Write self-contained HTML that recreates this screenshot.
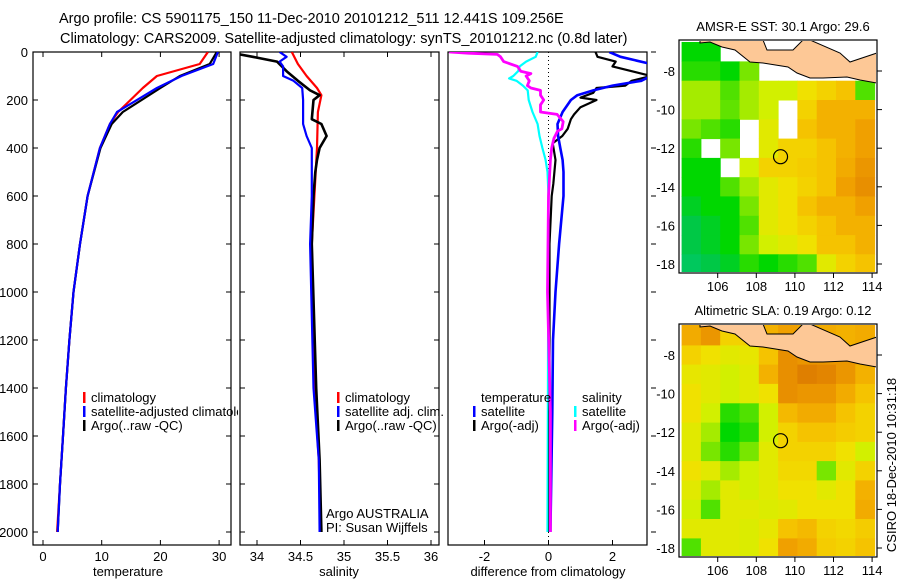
<!DOCTYPE html>
<html><head><meta charset="utf-8"><style>
html,body{margin:0;padding:0;background:#fff}
svg{display:block;font-family:"Liberation Sans",sans-serif}
</style></head><body>
<svg id="chart" width="900" height="580" viewBox="0 0 900 580" xmlns="http://www.w3.org/2000/svg">
<defs>
<clipPath id="c1"><rect x="33" y="52" width="198" height="493"/></clipPath>
<clipPath id="c2"><rect x="240" y="52" width="199" height="493"/></clipPath>
<clipPath id="c3"><rect x="448" y="52" width="199" height="493"/></clipPath>
<clipPath id="cl1"><rect x="33" y="380" width="205" height="60"/></clipPath>
<clipPath id="cm1"><rect x="680" y="41" width="196" height="231"/></clipPath>
<clipPath id="cm2"><rect x="680" y="325" width="196" height="231"/></clipPath>
</defs>
<text x="59" y="23" font-size="14.5">Argo profile: CS 5901175_150 11-Dec-2010 20101212_511 12.441S 109.256E</text>
<text x="60" y="43" font-size="14.5">Climatology: CARS2009. Satellite-adjusted climatology: synTS_20101212.nc (0.8d later)</text>
<g id="g"></g>
</svg>
<script>
// ---- data ----
const tempClimDepth = [0,50,100,150,250,300,400,600,800,1000,1200,1400,1600,1800,2000];
const tempClim = [28.1,26.7,19.4,17.0,12.8,11.4,9.7,7.6,6.3,5.2,4.5,3.9,3.4,2.9,2.4];
const tempSatDepth = [0,50,100,150,250,300,400,600,800,1000,1200,1400,1600,1800,2000];
const tempSat = [29.8,29.0,23.6,19.4,12.6,11.4,9.7,7.6,6.3,5.2,4.5,3.9,3.4,2.9,2.5];
const tempArgoDepth = [0,50,100,150,250,300,400,600,800,1000,1200,1400,1600,1800,2000];
const tempArgo = [29.6,28.4,23.3,20.0,13.6,11.7,9.8,7.6,6.3,5.2,4.5,3.9,3.4,2.9,2.5];

const salClimDepth = [0,50,100,150,180,250,400,800,1400,1700,2000];
const salClim = [34.40,34.47,34.57,34.69,34.74,34.70,34.69,34.63,34.66,34.71,34.73];
const salSatDepth = [0,20,40,60,100,120,150,200,300,350,400,600,800,1400,1700,2000];
const salSat = [34.26,34.34,34.26,34.30,34.30,34.42,34.52,34.53,34.53,34.57,34.63,34.63,34.61,34.65,34.71,34.72];
const salArgoDepth = [0,10,20,40,80,120,160,180,200,280,300,350,400,450,500,600,800,1400,1700,2000];
const salArgo = [33.78,33.80,33.95,34.23,34.34,34.47,34.61,34.72,34.65,34.63,34.74,34.80,34.72,34.69,34.67,34.65,34.63,34.68,34.72,34.74];

const dTempSatDepth = [0,20,50,100,120,140,160,180,200,250,300,350,400,450,500,600,800,1000,1200,1500,2000];
const dTempSat = [1.9,2.25,3.2,3.2,2.9,2.0,1.4,0.9,0.7,0.44,0.28,0.3,0.37,0.44,0.47,0.47,0.33,0.22,0.14,0.12,0.06];
const dTempArgoDepth = [0,20,40,60,80,100,120,140,150,170,190,200,230,260,280,320,350,380,450,550,600,800,2000];
const dTempArgo = [1.47,1.53,2.1,2.0,2.6,3.2,2.6,2.4,1.5,1.4,1.0,1.5,1.0,0.8,0.7,0.6,0.43,0.13,0.22,0.15,0.1,0.03,0.03];
const dSalSatDepth = [0,20,40,60,80,100,110,120,140,160,200,250,300,350,400,450,500,600,2000];
const dSalSat = [-0.34,-0.4,-0.7,-0.9,-0.95,-1.1,-1.23,-1.0,-0.8,-0.65,-0.62,-0.5,-0.34,-0.28,-0.19,-0.09,-0.03,0.0,-0.03];
const dSalArgoDepth = [0,5,10,20,40,60,80,90,100,120,140,150,160,180,200,220,250,260,290,320,330,360,400,450,600,1000,1500,2000];
const dSalArgo = [-3.1,-2.5,-1.6,-1.5,-1.4,-0.97,-0.87,-0.55,-0.7,-0.6,-0.66,-0.55,-0.25,-0.25,-0.15,-0.25,-0.25,0.27,0.46,0.42,0.28,0.17,0.1,0.06,0.0,-0.03,0.06,0.06];

const depthTicks = [0,200,400,600,800,1000,1200,1400,1600,1800,2000];
const tempTicks = [0,10,20,30];
const salTicks = [34,34.5,35,35.5,36];
const salTickLabels = ["34","34.5","35","35.5","36"];
const diffTicks = [-2,0,2];
const lonTicks = [106,108,110,112,114];
const latTicks = [-8,-10,-12,-14,-16,-18];

const sstGrid = [
[0.3,0.3,null,null,null,null,null,null,null,null],
[0.35,0.35,0.3,0.45,null,null,null,null,null,null],
[0.5,0.5,0.4,0.5,0.55,0.55,0.65,0.7,0.75,0.4],
[0.5,0.5,0.42,0.5,0.55,null,0.7,0.8,0.8,0.8],
[0.45,0.4,0.35,null,0.6,null,0.75,0.8,0.8,0.85],
[0.35,null,0.45,null,0.6,0.7,0.7,0.75,0.8,0.85],
[0.3,0.3,null,0.55,0.7,0.7,0.72,0.75,0.82,0.88],
[0.3,0.3,0.4,0.5,0.6,0.65,0.7,0.75,0.85,0.9],
[0.25,0.3,0.3,0.45,0.6,0.65,0.75,0.8,0.8,0.85],
[0.2,0.25,0.3,0.4,0.6,0.65,0.7,0.75,0.8,0.8],
[0.2,0.25,0.3,0.45,0.55,0.6,0.65,0.75,0.75,0.8],
[0.15,0.2,0.25,0.35,0.3,0.35,0.4,0.6,0.7,0.75]];
const slaGrid = [
[0.82,0.88,0.7,0.7,0.8,0.85,0.82,0.82,0.8,0.82],
[0.7,0.65,0.6,0.62,0.75,0.9,0.88,0.88,0.88,0.85],
[0.62,0.6,0.55,0.6,0.8,0.9,0.95,0.93,0.88,0.8],
[0.65,0.6,0.55,0.6,0.65,0.9,0.88,0.88,0.82,0.75],
[0.65,0.55,0.35,0.4,0.55,0.78,0.82,0.82,0.75,0.7],
[0.6,0.5,0.3,0.35,0.55,0.7,0.75,0.75,0.72,0.7],
[0.6,0.45,0.35,0.45,0.6,0.7,0.7,0.7,0.65,0.55],
[0.65,0.6,0.5,0.55,0.6,0.68,0.68,0.45,0.6,0.7],
[0.6,0.5,0.6,0.55,0.6,0.65,0.65,0.6,0.65,0.8],
[0.55,0.4,0.6,0.6,0.58,0.6,0.65,0.65,0.65,0.82],
[0.6,0.6,0.6,0.58,0.62,0.75,0.78,0.7,0.68,0.72],
[0.4,0.6,0.6,0.58,0.65,0.85,0.82,0.72,0.7,0.75]];
const argoLon = 109.256, argoLat = -12.441;

// ---- helpers ----
const NS="http://www.w3.org/2000/svg";
const G=document.getElementById('g');
function mk(tag,attrs,parent){const e=document.createElementNS(NS,tag);for(const k in attrs)e.setAttribute(k,attrs[k]);(parent||G).appendChild(e);return e;}
const yD=d=>52+d*0.24;
const xT=t=>43+t*5.87;
const xS=s=>257+(s-34)*87;
const xD=v=>548.5+v*32;

function panel(x0,w,name){
  const r=mk('rect',{x:x0,y:52,width:w,height:493,fill:'none',stroke:'#000','stroke-width':1.2});
  
  
}
function line(xs,ds,xf,color,clip,name,w){
  const p=xs.map((v,i)=>xf(v).toFixed(1)+','+yD(ds[i]).toFixed(1)).join(' ');
  const e=mk('polyline',{points:p,fill:'none',stroke:color,'stroke-width':w||2.2,'clip-path':'url(#'+clip+')','stroke-linejoin':'round'});
  
  
}
function txt(x,y,s,name,opt){
  const e=mk('text',Object.assign({x:x,y:y,'font-size':13},opt||{}));
  e.textContent=s;
  
  
  return e;
}
function legend(x,y,color,label,name,clip){
  const m=mk('rect',{x:x,y:y-10,width:2.5,height:11,fill:color});
  
  
  const t=txt(x+8,y,label,name);
  if(clip)t.setAttribute('clip-path','url(#'+clip+')');
}

panel(33,198,'temperature-panel');panel(240,199,'salinity-panel');panel(448,199,'difference-panel');

depthTicks.forEach(d=>{
  const y=yD(d);
  txt(28,y+5,String(d),'depth-tick-label',{'text-anchor':'end'});
  [[33,38],[226,231],[240,245],[434,439]].forEach(a=>{
    const t=mk('line',{x1:a[0],x2:a[1],y1:y,y2:y,stroke:'#000'});
    
    
  });
  const t3=mk('line',{x1:651,x2:656,y1:y,y2:y,stroke:'#000'});
  
  
});
tempTicks.forEach(v=>{const x=xT(v);
  const t=mk('line',{x1:x,x2:x,y1:540,y2:545,stroke:'#000'});
  const t2=mk('line',{x1:x,x2:x,y1:52,y2:57,stroke:'#000'});
  txt(x,561,String(v),'temp-tick-label',{'text-anchor':'middle'});});
salTicks.forEach((v,i)=>{const x=xS(v);
  const t=mk('line',{x1:x,x2:x,y1:540,y2:545,stroke:'#000'});
  const t2=mk('line',{x1:x,x2:x,y1:52,y2:57,stroke:'#000'});
  txt(x,561,salTickLabels[i],'sal-tick-label',{'text-anchor':'middle'});});
diffTicks.forEach(v=>{const x=xD(v);
  const t=mk('line',{x1:x,x2:x,y1:540,y2:545,stroke:'#000'});
  txt(x,561,String(v),'diff-tick-label',{'text-anchor':'middle'});});
txt(128,576,'temperature','x-axis-title-temperature',{'text-anchor':'middle'});
txt(339,576,'salinity','x-axis-title-salinity',{'text-anchor':'middle'});
txt(548,576,'difference from climatology','x-axis-title-difference',{'text-anchor':'middle'});

const z=mk('line',{x1:xD(0),x2:xD(0),y1:52,y2:545,stroke:'#000','stroke-dasharray':'1,3'});



line(tempClim,tempClimDepth,xT,'#ff0000','c1','temp-climatology-line');
line(tempArgo,tempArgoDepth,xT,'#000','c1','temp-argo-line');
line(tempSat,tempSatDepth,xT,'#0000ff','c1','temp-satellite-line');
line(salClim,salClimDepth,xS,'#ff0000','c2','sal-climatology-line');
line(salArgo,salArgoDepth,xS,'#000','c2','sal-argo-line',2.6);
line(salSat,salSatDepth,xS,'#0000ff','c2','sal-satellite-line');
line(dSalSat,dSalSatDepth,xD,'#00ffff','c3','diff-sal-satellite-line');
line(dTempArgo,dTempArgoDepth,xD,'#000','c3','diff-temp-argo-line');
line(dTempSat,dTempSatDepth,xD,'#0000ff','c3','diff-temp-satellite-line',2.6);
line(dSalArgo,dSalArgoDepth,xD,'#ff00ff','c3','diff-sal-argo-line',2.8);

legend(83,402,'#ff0000','climatology','legend-climatology');
legend(83,416,'#0000ff','satellite-adjusted climatology','legend-satellite-adjusted','cl1');
legend(83,430,'#000','Argo(..raw -QC)','legend-argo');
legend(337,402,'#ff0000','climatology','legend-sal-climatology');
legend(337,416,'#0000ff','satellite adj. clim.','legend-sal-satellite');
legend(337,430,'#000','Argo(..raw -QC)','legend-sal-argo');
txt(326,518,'Argo AUSTRALIA','credit-argo-australia');
txt(326,532,'PI: Susan Wijffels','credit-pi');
txt(481,402,'temperature','legend-temperature-header');
legend(473,416,'#0000ff','satellite','legend-diff-temp-satellite');
legend(473,430,'#000','Argo(-adj)','legend-diff-temp-argo');
txt(582,402,'salinity','legend-salinity-header');
legend(574,416,'#00ffff','satellite','legend-diff-sal-satellite');
legend(574,430,'#ff00ff','Argo(-adj)','legend-diff-sal-argo');

// ---- maps ----
const stops=[[0,[0,200,160]],[0.2,[0,200,70]],[0.3,[0,215,0]],[0.45,[120,230,0]],[0.55,[210,240,0]],[0.65,[240,225,0]],[0.75,[245,195,0]],[0.85,[240,160,0]],[1,[215,110,0]]];
function cmap(v){for(let i=1;i<stops.length;i++){if(v<=stops[i][0]){const a=stops[i-1],b=stops[i],f=(v-a[0])/(b[0]-a[0]);const c=a[1].map((x,k)=>Math.round(x+(b[1][k]-x)*f));return 'rgb('+c.join(',')+')';}}return 'rgb(215,110,0)';}
const xL=lon=>717.7+(lon-106)*19.3;
function drawMap(grid,off,clip,name,title,fillTop){
  const yL=lat=>71+off+(-8-lat)*19.3;
  txt(783,31+off,title,name+'-title',{'text-anchor':'middle'});
  grid.forEach((row,r)=>row.forEach((v,c)=>{
    if(v===null)return;
    const lat0=(r===0&&fillTop)?-5:(-6.5-r);
    const cell=mk('rect',{x:xL(104.13+c).toFixed(1),y:yL(lat0).toFixed(1),width:19.8,height:(yL(-7.5-r)-yL(lat0)+0.5).toFixed(1),fill:cmap(v),'clip-path':'url(#'+clip+')'});
    
    
  }));
  const pts=[[700,40],[763,40],[767,50],[793,50],[803,40],[810,40],[840,53],[850,62],[877,53],[877,83],[860,80],[847,77],[823,78],[810,78],[797,73],[788,67],[763,63],[750,62],[735,50],[722,47],[710,42],[700,43]];
  const land=mk('polygon',{points:pts.map(p=>p[0]+','+(p[1]+off)).join(' '),fill:'#fdc896',stroke:'#000','stroke-width':1,'clip-path':'url(#'+clip+')'});
  
  
  const fr=mk('rect',{x:679,y:40+off,width:198,height:233,fill:'none',stroke:'#000','stroke-width':1.2});
  
  
  lonTicks.forEach(l=>{const x=xL(l);
    const t=mk('line',{x1:x,x2:x,y1:273+off,y2:278+off,stroke:'#000'});
    txt(x,291+off,String(l),name+'-lon-label',{'text-anchor':'middle'});});
  latTicks.forEach(l=>{const y=yL(l);
    const t=mk('line',{x1:877,x2:882,y1:y,y2:y,stroke:'#000'});
    txt(675,y+5,String(l),name+'-lat-label',{'text-anchor':'end'});});
  const c=mk('circle',{cx:xL(argoLon),cy:yL(argoLat),r:7,fill:'none',stroke:'#000','stroke-width':1.2});
  
  
}
drawMap(sstGrid,0,'cm1','sst-map','AMSR-E SST: 30.1 Argo: 29.6',false);
drawMap(slaGrid,284,'cm2','sla-map','Altimetric SLA: 0.19 Argo: 0.12',true);
txt(0,0,'CSIRO 18-Dec-2010 10:31:18','timestamp',{'text-anchor':'middle',transform:'translate(896,465) rotate(-90)'});
</script>
</body></html>
